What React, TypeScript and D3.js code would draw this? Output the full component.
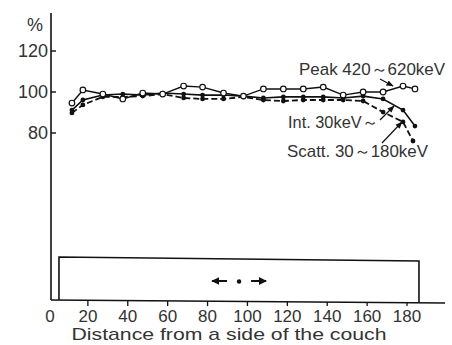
import React from "react";
import * as d3 from "d3";

const xs = [12, 17.5, 27.5, 37.5, 47.5, 57.5, 68, 77.5, 88, 98, 108, 118, 128, 138, 148, 158, 168, 178, 184];
const peak = [94.6, 101, 99, 96.6, 99.5, 99, 102.9, 102.4, 99.5, 98, 101.5, 101.5, 101.5, 102.4, 98.5, 100, 100, 102.9, 101.5];
const intg = [91.2, 96.1, 98.5, 99, 98.5, 99.5, 99, 98.5, 98.5, 98, 97.1, 97.6, 97.6, 97.6, 97.1, 98, 96.6, 91.2, 83.4];
const scattX = [12, 17.5, 27.5, 37.5, 47.5, 57.5, 68, 77.5, 88, 98, 108, 118, 128, 138, 148, 158, 168, 178, 183];
const scatt = [89.8, 93.7, 97.6, 97.6, 98, 99, 97.1, 96.6, 96.6, 97.6, 96.1, 95.6, 96.1, 96.1, 96.1, 95.6, 90.2, 85.4, 76.1];
const xTicks = [0, 20, 40, 60, 80, 100, 120, 140, 160, 180];
const yTicks = [80, 100, 120];
const couch = { from: 5.5, to: 186, height: 18.5 };

const font = "'Liberation Sans', Arial, sans-serif";

export default function App() {
  const x = d3.scaleLinear().domain([0, 180]).range([48, 407]);
  const y = d3.scaleLinear().domain([0, 120]).range([297, 51]);
  const axisX = 51;
  const axisY = 300;

  const line = d3
    .line<[number, number]>()
    .x((d) => x(d[0]))
    .y((d) => y(d[1]));

  const peakPts: [number, number][] = xs.map((v, i) => [v, peak[i]]);
  const intPts: [number, number][] = xs.map((v, i) => [v, intg[i]]);
  const scPts: [number, number][] = scattX.map((v, i) => [v, scatt[i]]);

  const mid = x(95.8);
  const arrowY = 281;

  return (
    <svg width={452} height={345} style={{ position: "absolute", left: 0, top: 0, background: "#fff" }}>
      <defs>
        <marker id="ah" viewBox="0 0 10 10" refX="9" refY="5" markerWidth="6" markerHeight="6" orient="auto">
          <path d="M0,1 L10,5 L0,9 Z" fill="#111" />
        </marker>
        <marker id="ah2" viewBox="0 0 10 10" refX="9" refY="5" markerWidth="4" markerHeight="4" orient="auto">
          <path d="M0,0 L10,5 L0,10 Z" fill="#111" />
        </marker>
      </defs>
      <rect x={0} y={0} width={452} height={345} fill="#fff" />

      {/* axes */}
      <line x1={axisX} y1={13} x2={axisX} y2={axisY} stroke="#111" strokeWidth={1.6} />
      <line x1={axisX} y1={axisY} x2={445} y2={axisY + 3} stroke="#111" strokeWidth={1.6} />
      {yTicks.map((t) => (
        <g key={t}>
          <line x1={axisX} x2={axisX + 5} y1={y(t)} y2={y(t)} stroke="#111" strokeWidth={1.4} />
          <text x={48} y={y(t) + 6} textAnchor="end" fontSize={18} fontFamily={font} fill="#333">
            {t}
          </text>
        </g>
      ))}
      <text x={35} y={31} textAnchor="middle" fontSize={18} fontFamily={font} fill="#333">%</text>
      {xTicks.map((t) => (
        <g key={t}>
          {t > 0 && (
            <line x1={x(t)} x2={x(t)} y1={axisY + (x(t) - axisX) / 130} y2={axisY + 6} stroke="#111" strokeWidth={1.3} />
          )}
          <text x={t === 0 ? x(t) + 2 : x(t)} y={322} textAnchor="middle" fontSize={17} fontFamily={font} fill="#333">
            {t}
          </text>
        </g>
      ))}
      <text x={229} y={340} textAnchor="middle" fontSize={17} fontFamily={font} fill="#333" textLength={315} lengthAdjust="spacingAndGlyphs">
        Distance from a side of the couch
      </text>

      {/* couch */}
      <path
        d={`M${x(couch.from)},${axisY} L${x(couch.from)},${y(couch.height) - 2} L${x(couch.to)},${y(couch.height) + 2} L${x(couch.to)},${axisY + 2.5}`}
        fill="none"
        stroke="#111"
        strokeWidth={1.6}
      />
      <line x1={mid - 12} x2={mid - 27} y1={arrowY} y2={arrowY} stroke="#111" strokeWidth={2} markerEnd="url(#ah2)" />
      <circle cx={mid} cy={arrowY + 0.5} r={2.2} fill="#111" />
      <line x1={mid + 12} x2={mid + 27} y1={arrowY} y2={arrowY} stroke="#111" strokeWidth={2} markerEnd="url(#ah2)" />

      {/* series */}
      <path d={line(scPts) || ""} fill="none" stroke="#111" strokeWidth={1.8} strokeDasharray="6,3" />
      <path d={line(intPts) || ""} fill="none" stroke="#111" strokeWidth={1.6} />
      <path d={line(peakPts) || ""} fill="none" stroke="#111" strokeWidth={1.4} />
      {scPts.map((d, i) => (
        <circle key={"s" + i} cx={x(d[0])} cy={y(d[1])} r={2.4} fill="#111" />
      ))}
      {intPts.map((d, i) => (
        <circle key={"i" + i} cx={x(d[0])} cy={y(d[1])} r={2.4} fill="#111" />
      ))}
      {peakPts.map((d, i) => (
        <circle key={"p" + i} cx={x(d[0])} cy={y(d[1])} r={2.8} fill="#fff" stroke="#111" strokeWidth={1.2} />
      ))}

      {/* labels */}
      <text x={299} y={75} fontSize={17} fontFamily={font} fill="#333" textLength={146} lengthAdjust="spacingAndGlyphs">
        Peak 420～620keV
      </text>
      <line x1={380} y1={79} x2={393} y2={86} stroke="#111" strokeWidth={1.2} markerEnd="url(#ah)" />
      <text x={288} y={128} fontSize={17} fontFamily={font} fill="#333" textLength={90} lengthAdjust="spacingAndGlyphs">
        Int. 30keV～
      </text>
      <line x1={380} y1={120} x2={394} y2={106} stroke="#111" strokeWidth={1.2} markerEnd="url(#ah)" />
      <text x={287} y={157} fontSize={17} fontFamily={font} fill="#333" textLength={141} lengthAdjust="spacingAndGlyphs">
        Scatt. 30～180keV
      </text>
      <line x1={382} y1={143} x2={402} y2={122} stroke="#111" strokeWidth={1.2} markerEnd="url(#ah)" />
    </svg>
  );
}
